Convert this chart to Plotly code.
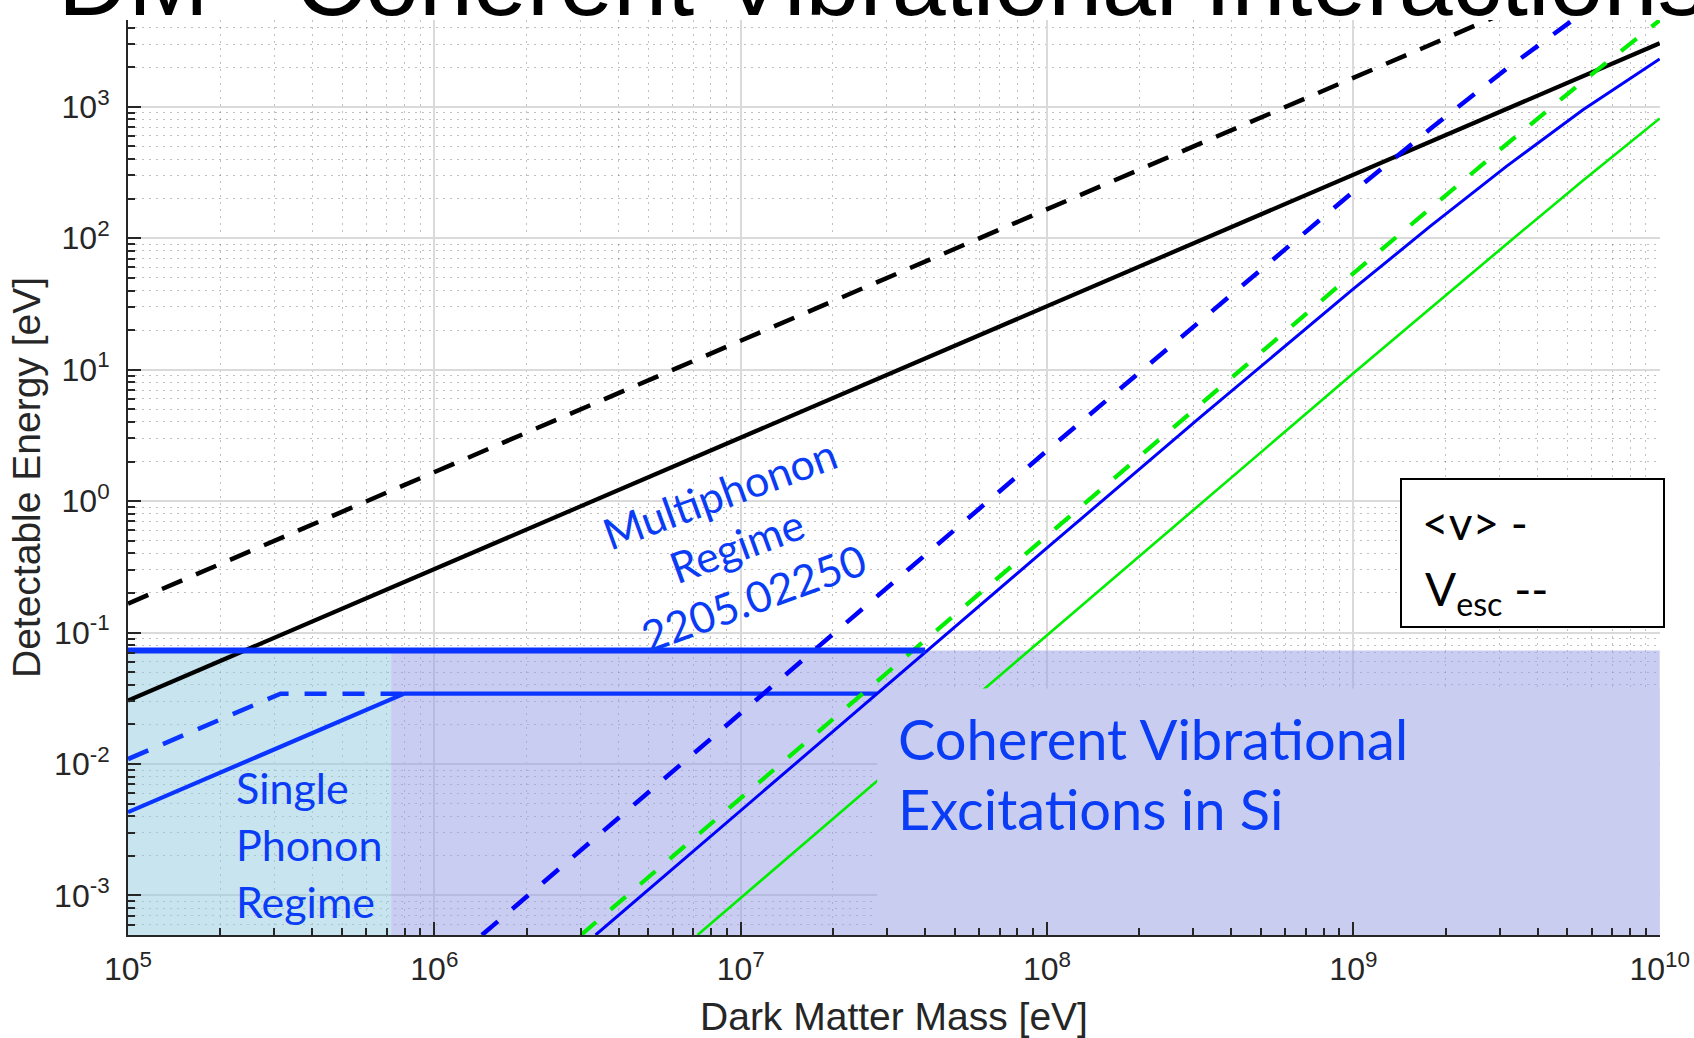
import plotly.graph_objects as go

# ---------------- data ----------------
# x = Dark Matter Mass [eV], y = Detectable Energy [eV]
mass_kin = [1e5, 1e10]
E_kin_mean = [0.0304, 3040]          # black solid  (<v>)
E_kin_esc = [0.166, 16600]           # black dashed (v_esc)

mass_si_mean = [3.36e6, 1e7, 1e8, 3.16e8, 1e9, 1.78e9, 3.16e9, 5.62e9, 1e10]
E_si_mean = [5.0e-4, 4.43e-3, 0.440, 4.34, 41.1, 123, 352, 948, 2310]          # blue solid

mass_si_esc = [1.43e6, 1e7, 1e8, 1e9, 1.78e9, 3.16e9, 5.62e9, 1e10]
E_si_esc = [5.0e-4, 0.0244, 2.42, 226, 676, 1940, 5210, 12700]                # blue dashed

mass_g_mean = [7.23e6, 1e7, 1e8, 1e9, 1.78e9, 3.16e9, 5.62e9, 1e10]
E_g_mean = [5.0e-4, 9.57e-4, 0.0955, 9.38, 29.2, 90, 275, 815]                # green solid

mass_g_esc = [3.01e6, 1e7, 1e8, 1e9, 1.78e9, 3.16e9, 5.62e9, 1e10]
E_g_esc = [5.0e-4, 5.5e-3, 0.549, 54, 168, 518, 1563, 4550]                   # green dashed

mass_sp_mean = [1e5, 7.98e5, 2.79e7]
E_sp_mean = [0.0043, 0.0343, 0.0343]                                # single phonon, <v>
mass_sp_esc = [1e5, 3.15e5, 7.98e5]
E_sp_esc = [0.0109, 0.0343, 0.0343]                                 # single phonon, v_esc

mass_multi = [1e5, 4.0e7]
E_multi = [0.073, 0.073]                                            # multiphonon threshold

region_sp_mass = [1e5, 7.23e5]
region_coh_mass = [7.23e5, 1e10]
region_E = [5.0e-4, 0.073]
box_mass = [2.79e7, 1e10]
box_E = [5.0e-4, 0.0375]

x_tick_vals = [1e5, 1e6, 1e7, 1e8, 1e9, 1e10]
x_tick_text = ["10<sup>5</sup>", "10<sup>6</sup>", "10<sup>7</sup>", "10<sup>8</sup>",
               "10<sup>9</sup>", "10<sup>10</sup>"]
y_tick_vals = [1e-3, 1e-2, 1e-1, 1e0, 1e1, 1e2, 1e3]
y_tick_text = ["10<sup>-3</sup>", "10<sup>-2</sup>", "10<sup>-1</sup>", "10<sup>0</sup>",
               "10<sup>1</sup>", "10<sup>2</sup>", "10<sup>3</sup>"]

x_range_log = [5, 10.001]
y_range_log = [-3.301, 3.66]

# ---------------- layout geometry ----------------
W, H = 1694, 1038
L, R, T, B = 128, 1660, 20, 935


def px(x):
    return (x - L) / (R - L)


def py(y):
    return (B - y) / (B - T)


BLUE = "#0000ff"
BLUE2 = "#0a34ff"
GREEN = "#00ee00"
TXT = "#0a3cf5"
CAL = "Lato, Carlito, Calibri, sans-serif"

fig = go.Figure()


def rect(xs, ys):
    return [xs[0], xs[1], xs[1], xs[0], xs[0]], [ys[0], ys[0], ys[1], ys[1], ys[0]]


def add_fill(xs, ys, color):
    rx, ry = rect(xs, ys)
    fig.add_trace(go.Scatter(x=rx, y=ry, mode="lines", fill="toself", fillcolor=color,
                             line=dict(width=0), hoverinfo="skip", showlegend=False))


def add_line(x, y, color, width, dash="solid"):
    fig.add_trace(go.Scatter(x=x, y=y, mode="lines", line=dict(color=color, width=width, dash=dash),
                             hoverinfo="skip", showlegend=False))


add_fill(region_sp_mass, region_E, "rgba(145,201,221,0.5)")
add_fill(region_coh_mass, region_E, "rgba(147,155,227,0.5)")

add_line(mass_sp_esc, E_sp_esc, BLUE2, 4.5, "22px,16px")
add_line(mass_sp_mean, E_sp_mean, BLUE2, 4.2)

add_line(mass_kin, E_kin_esc, "black", 4.5, "22px,15px")
add_line(mass_kin, E_kin_mean, "black", 4.2)

add_line(mass_g_mean, E_g_mean, GREEN, 2.6)
add_fill(box_mass, box_E, "rgb(201,206,241)")

add_line(mass_si_esc, E_si_esc, BLUE, 4.5, "21px,19px")
add_line(mass_g_esc, E_g_esc, GREEN, 4.2, "20px,19px")
add_line(mass_si_mean, E_si_mean, BLUE, 3.0)

add_line(mass_multi, E_multi, BLUE2, 6)

axis_font = dict(family="Liberation Sans, Arial", size=32, color="#262626")
title_font = dict(family="Liberation Sans, Arial, Helvetica", size=39, color="#262626")
grid_minor = dict(showgrid=True, gridcolor="rgba(90,90,90,0.38)", griddash="2px,5px", gridwidth=1,
                  ticks="inside", ticklen=7, tickcolor="#262626", tickwidth=1.5, dtick="D1")

common = dict(type="log", tickmode="array", showline=True, linecolor="#262626", linewidth=2,
              mirror=False, ticks="inside", ticklen=13, tickwidth=1.5, tickcolor="#262626",
              showgrid=True, gridcolor="#dadada", gridwidth=1.5, tickfont=axis_font,
              minor=grid_minor, zeroline=False, automargin=False)

fig.update_xaxes(range=x_range_log, tickvals=x_tick_vals, ticktext=x_tick_text,
                 ticklabelstandoff=5,
                 title=dict(text="Dark Matter Mass [eV]", font=title_font, standoff=19), **common)
fig.update_yaxes(range=y_range_log, tickvals=y_tick_vals, ticktext=y_tick_text,
                 ticklabelstandoff=10,
                 title=dict(text="Detectable Energy [eV]", font=title_font, standoff=1), **common)

ann = []


def text(t, x, y, size, color=TXT, angle=0, xanchor="left", yanchor="middle", family=CAL):
    ann.append(dict(text=t, x=px(x), y=py(y), xref="paper", yref="paper", showarrow=False,
                    xanchor=xanchor, yanchor=yanchor, textangle=angle,
                    font=dict(family=family, size=size, color=color)))


# regime labels
text("Multiphonon", 719, 493, 43, angle=-20, xanchor="center")
text("Regime", 736, 545, 43, angle=-20, xanchor="center")
text("2205.02250", 753, 597, 43, angle=-20, xanchor="center")

text("Single", 234, 787, 43)
text("Phonon", 234, 844, 43)
text("Regime", 234, 901, 43)

text("Coherent Vibrational", 896, 738, 56)
text("Excitations in Si", 896, 809, 56)

# legend box
text("&lt;v&gt; -", 1420, 522, 46, color="black")
text("V<sub>esc</sub> --", 1423, 592, 46, color="black")

# slide title (cut off by the top of the page)
text("DM - Coherent Vibrational Interactions", 56, -19, 97, color="black",
     family="Liberation Sans, Arial")

shapes = [dict(type="rect", xref="paper", yref="paper", x0=px(1401), x1=px(1664), y0=py(627), y1=py(479),
               fillcolor="white", line=dict(color="black", width=2), layer="above")]

fig.update_layout(width=W, height=H, margin=dict(l=L, r=W - R, t=T, b=H - B),
                  paper_bgcolor="white", plot_bgcolor="white", showlegend=False,
                  annotations=ann, shapes=shapes)

fig.write_html("out.html")
